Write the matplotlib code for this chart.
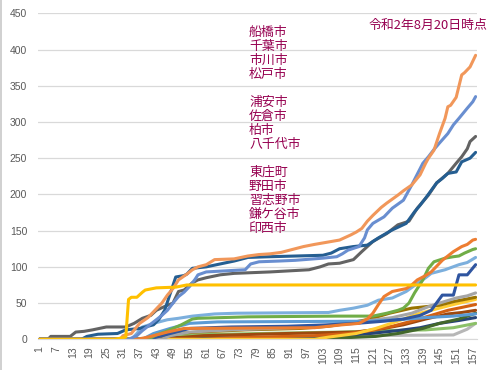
import matplotlib
matplotlib.use('Agg')
import matplotlib.pyplot as plt
from matplotlib.lines import Line2D

# cumulative cases per city as (day, count) points
s_light_orange = [(1, 0), (30, 0), (31, 5), (34, 8), (37, 22), (40, 30), (42, 38), (45, 50), (47, 61), (49, 70),
                  (51, 82), (54, 90), (56, 96), (58, 100), (61, 103), (64, 110), (71, 111), (76, 115), (80, 117),
                  (84, 118), (88, 120), (91, 123), (96, 128), (100, 131), (103, 133), (106, 135), (109, 137),
                  (113, 144), (115, 148), (117, 153), (119, 163), (121, 171), (124, 182), (126, 188), (130, 199),
                  (132, 205), (135, 213), (138, 227), (140, 243), (141, 250), (143, 261), (145, 284), (147, 305),
                  (148, 321), (149, 323), (151, 334), (153, 365), (154, 368), (156, 376), (158, 392)]
s_mid_blue = [(1, 0), (33, 0), (36, 5), (38, 12), (40, 18), (43, 27), (45, 33), (47, 40), (49, 50), (51, 59),
              (53, 65), (55, 73), (57, 83), (58, 89), (61, 93), (75, 96), (77, 104), (80, 107), (87, 108), (93, 109),
              (103, 112), (108, 114), (110, 118), (112, 123), (116, 128), (118, 140), (119, 151), (121, 160),
              (125, 169), (128, 181), (132, 192), (135, 213), (137, 228), (139, 243), (141, 252), (143, 262),
              (145, 271), (148, 284), (150, 296), (152, 305), (155, 319), (157, 328), (158, 335)]
s_dark_gray = [(1, 0), (4, 0), (5, 4), (12, 4), (14, 10), (17, 11), (20, 13), (25, 17), (32, 17), (35, 22), (38, 29),
               (41, 33), (43, 40), (47, 47), (49, 50), (51, 66), (53, 68), (56, 78), (58, 82), (61, 85), (66, 89),
               (71, 91), (84, 93), (98, 96), (102, 100), (105, 104), (109, 105), (112, 108), (114, 110), (117, 121),
               (121, 135), (126, 146), (130, 158), (134, 163), (137, 181), (141, 199), (144, 216), (148, 229),
               (151, 243), (153, 252), (155, 263), (156, 273), (158, 280)]
s_dark_blue = [(1, 0), (16, 0), (18, 4), (22, 7), (29, 8), (32, 13), (37, 15), (42, 20), (44, 28), (46, 40),
               (48, 63), (50, 86), (53, 88), (54, 90), (56, 98), (61, 100), (66, 104), (71, 108), (76, 113),
               (84, 114), (103, 116), (106, 119), (109, 125), (114, 128), (119, 130), (123, 140), (128, 151),
               (133, 160), (136, 176), (138, 185), (140, 195), (144, 216), (146, 222), (148, 229), (151, 231),
               (153, 245), (156, 250), (158, 258)]
s_gold = [(1, 0), (28, 0), (32, 3), (33, 55), (34, 58), (36, 58), (38, 65), (39, 68), (43, 71), (50, 72), (54, 75),
          (158, 75)]
s_orange = [(1, 0), (36, 0), (40, 3), (47, 10), (53, 15), (100, 16), (105, 18), (110, 20), (116, 22), (119, 28),
            (121, 36), (123, 48), (125, 59), (128, 66), (133, 70), (135, 75), (137, 82), (140, 88), (142, 93),
            (144, 101), (146, 109), (148, 115), (150, 121), (153, 128), (155, 131), (157, 137), (158, 138)]
s_green = [(1, 0), (40, 0), (43, 6), (46, 10), (49, 15), (52, 20), (54, 24), (56, 28), (58, 29), (76, 31),
           (108, 32), (121, 32), (126, 36), (130, 40), (132, 43), (134, 50), (136, 64), (139, 82), (141, 98),
           (143, 107), (147, 112), (150, 114), (152, 115), (154, 119), (157, 124), (158, 125)]
s_sky_blue = [(1, 0), (34, 0), (36, 8), (38, 17), (43, 23), (47, 27), (51, 29), (56, 32), (64, 35), (72, 36),
              (105, 37), (109, 40), (114, 43), (119, 47), (123, 54), (128, 57), (133, 66), (137, 77), (140, 85),
              (142, 91), (147, 96), (152, 103), (155, 106), (158, 113)]
s_royal_blue = [(1, 0), (40, 0), (45, 5), (50, 10), (55, 15), (70, 17), (90, 18), (105, 20), (115, 22), (125, 25),
                (132, 28), (138, 33), (142, 40), (146, 61), (150, 61), (152, 89), (155, 89), (158, 103)]
s_gray = [(1, 0), (45, 0), (48, 5), (55, 10), (70, 13), (85, 15), (100, 17), (110, 22), (120, 26), (128, 30),
          (135, 36), (141, 45), (145, 50), (151, 57), (155, 60), (158, 64)]
s_dark_gold = [(1, 0), (40, 0), (45, 5), (50, 8), (58, 10), (75, 13), (95, 15), (105, 18), (112, 22), (120, 28),
               (127, 36), (135, 43), (145, 47), (150, 52), (158, 58)]
s_light_gold = [(1, 0), (100, 0), (105, 3), (115, 8), (122, 15), (130, 25), (137, 35), (142, 40), (150, 48),
                (158, 55)]
s_red_orange = [(1, 0), (60, 0), (70, 2), (100, 5), (112, 8), (120, 12), (128, 18), (135, 25), (142, 33), (148, 40),
                (153, 44), (158, 48)]
s_brown = [(1, 0), (45, 0), (50, 2), (60, 5), (90, 8), (115, 10), (125, 15), (132, 20), (140, 28), (148, 35),
           (153, 37), (158, 40)]
s_navy = [(1, 0), (40, 0), (48, 2), (105, 2), (110, 5), (120, 8), (130, 12), (138, 16), (145, 22), (152, 26),
          (158, 30)]
s_dark_green = [(1, 0), (100, 0), (110, 2), (122, 4), (130, 8), (139, 15), (145, 22), (152, 28), (158, 36)]
s_light_green = [(1, 0), (42, 0), (48, 3), (55, 6), (80, 8), (110, 10), (125, 12), (140, 13), (150, 16), (158, 22)]
s_light_gray = [(1, 0), (50, 0), (55, 2), (100, 4), (115, 5), (150, 6), (155, 14), (158, 22)]
s_blue = [(1, 0), (38, 0), (42, 8), (48, 15), (55, 22), (65, 24), (120, 25), (130, 27), (140, 30), (150, 32),
          (158, 35)]

city_labels = ['船橋市', '千葉市', '市川市', '松戸市', '',
               '浦安市', '佐倉市', '柏市', '八千代市', '',
               '東庄町', '野田市', '習志野市', '鎌ケ谷市', '印西市']
date_note = '令和2年8月20日時点'

n_days = 158
x_ticks = list(range(1, n_days, 6))
y_ticks = list(range(0, 451, 50))

series = [
    (s_light_gray, '#B7B7B7'),
    (s_light_green, '#8CC168'),
    (s_navy, '#264478'),
    (s_dark_green, '#43682B'),
    (s_brown, '#9E480E'),
    (s_red_orange, '#D26012'),
    (s_light_gold, '#FFCD33'),
    (s_dark_gold, '#997300'),
    (s_gray, '#A5A5A5'),
    (s_blue, '#5B9BD5'),
    (s_royal_blue, '#2F55A0'),
    (s_sky_blue, '#7CAFDD'),
    (s_green, '#70AD47'),
    (s_orange, '#ED7D31'),
    (s_dark_gray, '#636363'),
    (s_dark_blue, '#255E91'),
    (s_mid_blue, '#698ED0'),
    (s_light_orange, '#F1975A'),
    (s_gold, '#FFC000'),
]

W, H = 492, 370
fig = plt.figure(figsize=(W / 100, H / 100), dpi=100)
ax = fig.add_axes([38.3 / W, 1 - 339.3 / H, (477 - 38.3) / W, (339.3 - 13.3) / H])

for pts, color in series:
    d = [p[0] for p in pts]
    v = [p[1] for p in pts]
    ax.plot(d, v, color=color, lw=2.2, solid_joinstyle='round', solid_capstyle='round')

ax.set_xlim(0.5, n_days + 0.5)
ax.set_ylim(0, 450)
ax.set_yticks(y_ticks)
ax.set_xticks(x_ticks)
ax.set_xticklabels([str(t) for t in x_ticks], rotation=90)
ax.tick_params(length=0, labelcolor='#595959', labelsize=7.5)
ax.tick_params(axis='y', pad=8)
ax.tick_params(axis='x', pad=5)
for lab in ax.get_xticklabels() + ax.get_yticklabels():
    lab.set_family('Liberation Sans')
ax.grid(axis='y', color='#D9D9D9', lw=0.9)
ax.set_axisbelow(True)
for side in ['top', 'right', 'left']:
    ax.spines[side].set_visible(False)
ax.spines['bottom'].set_color('#D9D9D9')

txt_color = '#960050'
cjk = ['Noto Sans CJK JP', 'DejaVu Sans']
for i, name in enumerate(city_labels):
    if name:
        fig.text(249 / W, 1 - (32.3 + 14 * i) / H, name, color=txt_color, fontsize=9.3,
                 family=cjk, ha='left', va='center')
fig.text(487 / W, 1 - 25.7 / H, date_note, color=txt_color, fontsize=9.3,
         family=cjk, ha='right', va='center')

fig.add_artist(Line2D([0.5 / W, 0.5 / W], [0, 1], color='#C8C8C8', lw=1.2))

fig.savefig('out.png', dpi=100)
